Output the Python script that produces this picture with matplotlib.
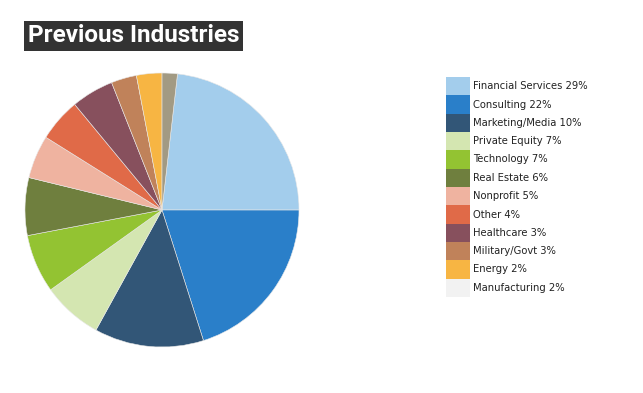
import matplotlib.pyplot as plt
from matplotlib.patches import Rectangle

# slice shares as measured from the pie; legend labels carry the printed percentages
labels = ['Financial Services 29%', 'Consulting 22%', 'Marketing/Media 10%',
          'Private Equity 7%', 'Technology 7%', 'Real Estate 6%', 'Nonprofit 5%',
          'Other 4%', 'Healthcare 3%', 'Military/Govt 3%', 'Energy 2%',
          'Manufacturing 2%']
shares = [23.2, 20.1, 12.9, 7.1, 6.9, 6.8, 5.1, 5.1, 5.0, 3.0, 3.0, 1.8]
pie_colors = ['#a3cdec', '#2a7fc9', '#325677', '#d4e6b1', '#93c332', '#6f7f3e',
              '#efb3a0', '#e06a48', '#87505d', '#c0825a', '#f7b543', '#a29a83']
legend_colors = pie_colors[:-1] + ['#f2f2f2']

W, H = 643, 393
fig = plt.figure(figsize=(W / 100, H / 100), dpi=100)

# pie: centre (162, 210) px, radius 137 px
cx, cy, r = 162, 210, 137
ax = fig.add_axes([(cx - r) / W, (H - cy - r) / H, 2 * r / W, 2 * r / H])
ax.pie(shares, colors=pie_colors, startangle=83.5, counterclock=False,
       wedgeprops=dict(edgecolor='#e8e8e8', linewidth=0.4))
ax.set_aspect('equal')
ax.set_xlim(-1, 1)
ax.set_ylim(-1, 1)

# title
fig.text(28 / W, 1 - 36 / H, 'Previous Industries', family='Roboto', weight='bold',
         fontsize=17.5, color='white', va='center', ha='left',
         bbox=dict(facecolor='#333333', edgecolor='none', pad=2.6))

# legend
lx0, lx1, ly0, ly1 = 446, 640, 77, 297
lax = fig.add_axes([lx0 / W, (H - ly1) / H, (lx1 - lx0) / W, (ly1 - ly0) / H])
lax.set_xlim(0, lx1 - lx0)
lax.set_ylim(len(labels), 0)
lax.axis('off')
for i, (lab, col) in enumerate(zip(labels, legend_colors)):
    lax.add_patch(Rectangle((0, i), 24, 1, facecolor=col, edgecolor='none'))
    lax.text(27, i + 0.5, lab, fontsize=7.2, color='#222222', va='center', ha='left',
             family='DejaVu Sans')

fig.savefig('out.png', dpi=100)
